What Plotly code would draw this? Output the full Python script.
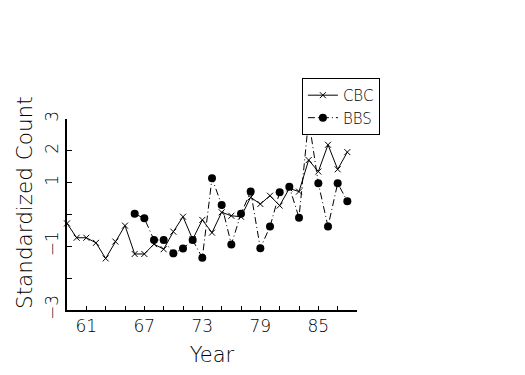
import plotly.graph_objects as go

cbc_years = list(range(59, 89))
cbc_values = [-0.28, -0.73, -0.73, -0.89, -1.38, -0.85, -0.35, -1.24, -1.24, -0.93,
              -1.09, -0.54, -0.07, -0.78, -0.17, -0.57, 0.07, -0.04, -0.07, 0.54,
              0.33, 0.59, 0.28, 0.82, 0.72, 1.71, 1.35, 2.19, 1.42, 1.96]

bbs_years = list(range(66, 89))
bbs_values = [0.02, -0.12, -0.80, -0.80, -1.22, -1.07, -0.80, -1.36, 1.14, 0.30,
              -0.94, 0.02, 0.72, -1.06, -0.38, 0.70, 0.87, -0.10, 3.0, 0.98,
              -0.38, 0.98, 0.42]

x_tickvals = list(range(59, 90, 2))
x_ticktext = ["" if v not in (61, 67, 73, 79, 85) else str(v) for v in x_tickvals]
y_tickvals = [-3, -2, -1, 0, 1, 2, 3]
y_ticktext = ["\u22123", "", "\u22121", "", "1", "2", "3"]

FONT = "DejaVu Sans"
W = 200

fig = go.Figure()
fig.add_trace(go.Scatter(
    x=cbc_years, y=cbc_values, name="CBC", mode="lines+markers",
    line=dict(color="black", width=1),
    marker=dict(symbol="x-thin", size=6, line=dict(color="black", width=1), color="black"),
    cliponaxis=False,
))
fig.add_trace(go.Scatter(
    x=bbs_years, y=bbs_values, name="BBS", mode="lines+markers",
    line=dict(color="black", width=1, dash="7px,3px,1px,3px"),
    marker=dict(symbol="circle", size=8, color="black"),
    cliponaxis=False,
))

fig.update_layout(
    width=525, height=375,
    margin=dict(l=67, r=168, t=119, b=65),
    paper_bgcolor="white", plot_bgcolor="white",
    font=dict(family=FONT, color="black", size=17, weight=W),
    showlegend=True,
    legend=dict(
        x=0.81, y=1.215, xanchor="left", yanchor="top",
        bgcolor="white", bordercolor="black", borderwidth=1,
        font=dict(family=FONT, size=15, color="black", weight=W),
        tracegroupgap=0, itemwidth=30,
    ),
    xaxis=dict(
        range=[59, 89], tickmode="array", tickvals=x_tickvals, ticktext=x_ticktext,
        ticks="inside", ticklen=4, tickwidth=1, tickcolor="black",
        showline=True, linecolor="black", linewidth=2, showgrid=False, zeroline=False,
        tickfont=dict(family=FONT, size=17, weight=W), automargin=False,
        title=dict(text="Year", font=dict(family=FONT, size=21, weight=W), standoff=12),
    ),
    yaxis=dict(
        range=[-3, 3], tickmode="array", tickvals=y_tickvals, ticktext=y_ticktext,
        tickangle=-90,
        ticks="inside", ticklen=5, tickwidth=1, tickcolor="black",
        showline=True, linecolor="black", linewidth=2, showgrid=False, zeroline=False,
        tickfont=dict(family=FONT, size=17, weight=W), automargin=False,
    ),
    annotations=[dict(
        text="Standardized Count", textangle=-90, showarrow=False,
        xref="paper", yref="paper", x=(24 - 67) / 290, y=(310 - 203) / 191,
        xanchor="center", yanchor="middle",
        font=dict(family=FONT, size=21.5, color="black", weight=W),
    )],
)

fig.write_html("out.html", config={"displayModeBar": False},
               post_script="document.body.style.margin='0';")
